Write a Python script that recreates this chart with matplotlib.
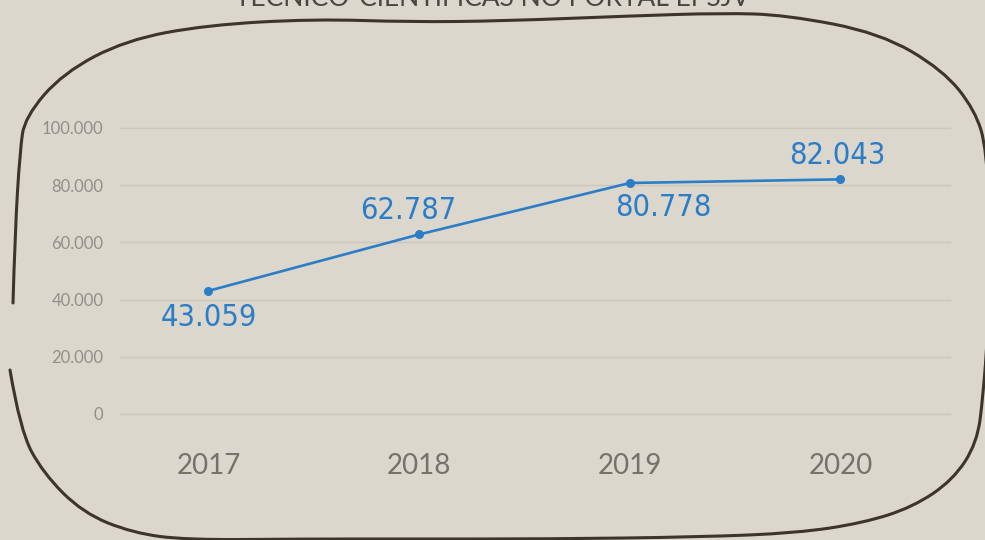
import matplotlib.pyplot as plt
from matplotlib.path import Path
from matplotlib.patches import PathPatch

# Dati
years = ["2017", "2018", "2019", "2020"]
values = [43059, 62787, 80778, 82043]
value_labels = ["43.059", "62.787", "80.778", "82.043"]
y_ticks = [0, 20000, 40000, 60000, 80000, 100000]
y_tick_labels = ["0", "20.000", "40.000", "60.000", "80.000", "100.000"]
title = "TÉCNICO-CIENTÍFICAS NO PORTAL EPSJV"

bg = "#dbd7cc"
blue = "#2b7dc8"
W, H = 985, 540

fig = plt.figure(figsize=(9.85, 5.4), dpi=100, facecolor=bg)
ax = fig.add_axes([120 / W, 1 - 414 / H, (950 - 120) / W, (414 - 128) / H])
ax.set_facecolor(bg)

x = list(range(len(years)))
ax.plot(x, values, color=blue, lw=1.9, marker="o", ms=5.5, zorder=3)

# etichette dei valori
offsets = [(0, -19), (-8, 17), (24, -18), (-2, 17)]
for xi, v, lab, off in zip(x, values, value_labels, offsets):
    ax.annotate(lab, (xi, v), xytext=off, textcoords="offset points",
                ha="center", va="center", fontsize=22, color=blue,
                family="DejaVu Sans", fontstretch="condensed", fontweight="medium")

ax.set_xlim(-0.42, 3.52)
ax.set_ylim(0, 100000)
ax.set_xticks(x)
ax.set_xticklabels(years, family="Lato", fontsize=20, color="#75726b")
ax.set_yticks(y_ticks)
ax.set_yticklabels(y_tick_labels, family="Lato", fontsize=12, color="#928f88")
ax.tick_params(axis="x", length=0, pad=28)
ax.tick_params(axis="y", length=0, pad=12)
ax.grid(axis="y", color="#cbc7bc", lw=1)
for gl in ax.get_ygridlines():
    gl.set_clip_on(False)
ax.set_axisbelow(True)
for s in ax.spines.values():
    s.set_visible(False)

# titolo (tagliato in alto)
fig.text(0.5, 1 + 2 / H, title, ha="center", va="center", fontsize=19,
         family="Lato", color="#4a4741")

# cornice disegnata a mano
pts = [(13, 303), (15, 233), (20, 150), (25, 117), (63, 73), (126, 40), (207, 25),
       (314, 19), (410, 22), (503, 21), (629, 16), (723, 13), (786, 15), (880, 33),
       (943, 70), (975, 110), (987, 150), (990, 250), (988, 330), (983, 397),
       (977, 443), (953, 480), (913, 507), (863, 523), (797, 533), (700, 537),
       (550, 539), (400, 539), (300, 539), (187, 540), (133, 533), (83, 513),
       (43, 473), (20, 430), (10, 370)]
pts = [(px / W, 1 - py / H) for px, py in pts]
verts = [pts[0]]
codes = [Path.MOVETO]
for i in range(1, len(pts) - 1):
    mid = ((pts[i][0] + pts[i + 1][0]) / 2, (pts[i][1] + pts[i + 1][1]) / 2)
    verts += [pts[i], mid if i < len(pts) - 2 else pts[-1]]
    codes += [Path.CURVE3, Path.CURVE3]
frame = PathPatch(Path(verts, codes), transform=fig.transFigure, fill=False,
                  edgecolor="#3b352b", lw=2.2, capstyle="round")
fig.add_artist(frame)

fig.savefig("out.png", dpi=100, facecolor=bg)
